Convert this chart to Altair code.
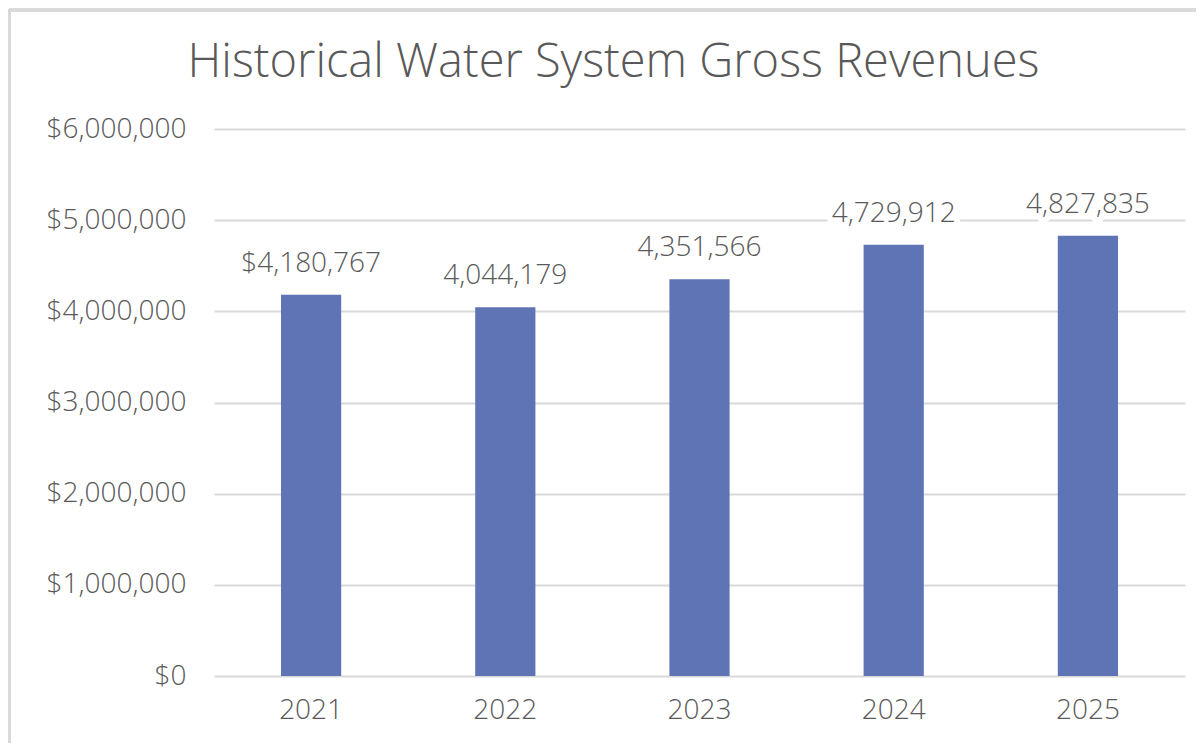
import altair as alt
import pandas as pd

years = ["2021", "2022", "2023", "2024", "2025"]
revenues = [4180767, 4044179, 4351566, 4729912, 4827835]
labels = ["$4,180,767", "4,044,179", "4,351,566", "4,729,912", "4,827,835"]
y_ticks = [0, 1000000, 2000000, 3000000, 4000000, 5000000, 6000000]

df = pd.DataFrame({"year": years, "revenue": revenues, "label": labels})

FONT = "Open Sans"
WT = 300
GRAY = "#595959"
FS = 28
W, H = 971, 547

x_enc = alt.X("year:N", sort=years,
              scale=alt.Scale(paddingInner=0.69, paddingOuter=0.345),
              axis=alt.Axis(title=None, labelAngle=0, labelFontSize=FS, labelColor=GRAY,
                            labelFont=FONT, labelFontWeight=WT, labelPadding=20, ticks=False,
                            domain=False, grid=False))
y_enc = alt.Y("revenue:Q",
              scale=alt.Scale(domain=[0, 6000000], nice=False),
              axis=alt.Axis(title=None, values=y_ticks, format="$,.0f", labelFontSize=FS,
                            labelColor=GRAY, labelFont=FONT, labelFontWeight=WT, labelPadding=28,
                            ticks=False, domain=False, grid=True, gridColor="#d9d9d9", gridWidth=2))

base = alt.Chart(df)
bars = base.mark_bar(color="#5e74b4").encode(x=x_enc, y=y_enc)
halo = base.mark_text(baseline="alphabetic", dy=-23, fontSize=FS, font=FONT, fontWeight=WT,
                      stroke="white", strokeWidth=12, strokeJoin="round", fill="white").encode(
    x=alt.X("year:N", sort=years), y="revenue:Q", text="label:N")
txt = base.mark_text(baseline="alphabetic", dy=-23, fontSize=FS, font=FONT, fontWeight=WT,
                     color=GRAY).encode(
    x=alt.X("year:N", sort=years), y="revenue:Q", text="label:N")

border_top = alt.Chart(df).mark_rule(color="#d9d9d9", strokeWidth=3).encode(
    x=alt.value(-205), x2=alt.value(W + 40), y=alt.value(-119))
border_left = alt.Chart(df).mark_rule(color="#d9d9d9", strokeWidth=3).encode(
    x=alt.value(-204.5), y=alt.value(-120), y2=alt.value(H + 100))

chart = alt.layer(border_top, border_left, bars, halo, txt).properties(
    width=W, height=H,
    autosize=alt.AutoSizeParams(type="none"),
    padding={"left": 206, "top": 121, "right": 11, "bottom": 67},
    title=alt.TitleParams("Historical Water System Gross Revenues", fontSize=47, font=FONT,
                          fontWeight=WT, color=GRAY, anchor="start", dx=180,
                          baseline="alphabetic", offset=0, dy=116),
).configure_view(stroke=None)

chart.save("out.html", embed_options={"renderer": "svg", "actions": False})
